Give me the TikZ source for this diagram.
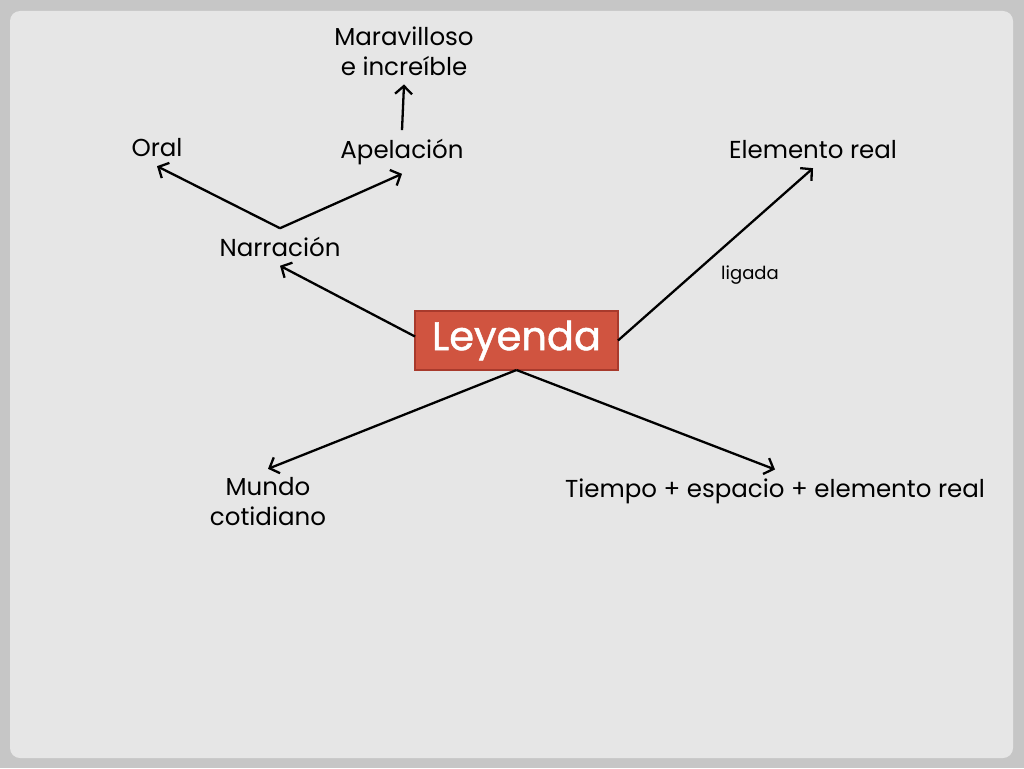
\documentclass[tikz,border=0pt]{standalone}
\usepackage{fontspec}
\setmainfont{Poppins}
\usetikzlibrary{arrows.meta}

\definecolor{frame}{RGB}{198,198,198}
\definecolor{panel}{RGB}{230,230,230}
\definecolor{boxfill}{RGB}{208,84,64}
\definecolor{boxline}{RGB}{168,58,44}

\begin{document}
\begin{tikzpicture}[x=1pt, y=-1pt,
		txt/.style={font=\fontsize{24.5}{30}\selectfont, align=center, inner sep=0pt, outer sep=9pt},
		arr/.style={-{Straight Barb[length=8pt, width=17pt]}, line width=2.3pt}]
		\fill[frame] (0,0) rectangle (1024,768);
		\fill[panel, rounded corners=10pt] (10,11) rectangle (1013,758);
		
		\node[draw=boxline, line width=2pt, fill=boxfill, minimum width=203pt, minimum height=59pt, inner sep=0pt, outer sep=0pt, text=white, font=\fontsize{40}{40}\selectfont\addfontfeature{FakeBold=1.2}] (ley) at (516.5,340.5) {Leyenda};
		
		\node[txt] (marav) at (404,51) {Maravilloso\\e increíble};
		\node[txt] (apel) at (402,152) {Apelación};
		\node[txt] (oral) at (157,148) {Oral};
		\node[txt] (narr) at (280,247) {Narración};
		\node[txt] (elem) at (813,150) {Elemento real};
		\node[txt, font=\fontsize{18}{20}\selectfont] (lig) at (750,275) {ligada};
		\node[txt] (mundo) at (268,502) {Mundo\\cotidiano};
		\node[txt] (tiempo) at (775,491) {Tiempo + espacio + elemento real};
		
		\draw[arr] (narr.north) -- (oral.south);
		\draw[arr] (narr.north) -- (apel.south);
		\draw[arr] (apel.north) -- (marav.south);
		\draw[arr] ([yshift=4pt]ley.west) -- (narr.south);
		\draw[arr] (ley.east) -- (elem.south);
		\draw[arr] (ley.south) -- (mundo.north);
		\draw[arr] (ley.south) -- (tiempo.north);
	\end{tikzpicture}
\end{document}
